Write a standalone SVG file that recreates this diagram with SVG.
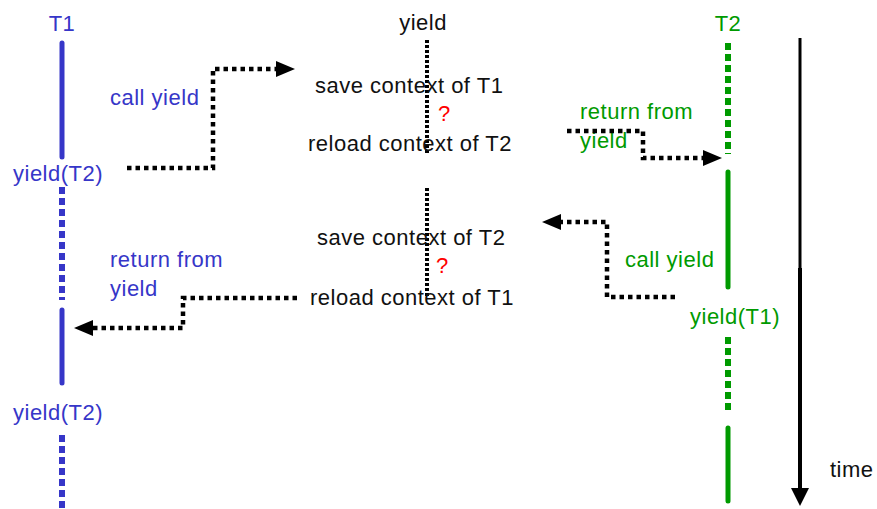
<svg xmlns="http://www.w3.org/2000/svg" width="877" height="509" viewBox="0 0 877 509">
  <style>
    text { font-family: "Liberation Sans", Arial, sans-serif; font-size: 22px; letter-spacing: 0.5px; }
    .blue { fill: #3636c8; }
    .green { fill: #009a00; }
    .black { fill: #111111; }
    .red { fill: #ff0000; }
    .t1solid { stroke: #3636c8; stroke-width: 5; stroke-linecap: round; fill: none; }
    .t1dots { stroke: #3636c8; stroke-width: 6; stroke-dasharray: 7 4; fill: none; }
    .t2solid { stroke: #009a00; stroke-width: 5; stroke-linecap: round; fill: none; }
    .t2dots { stroke: #009a00; stroke-width: 6; stroke-dasharray: 7 4; fill: none; }
    .flow { stroke: #000; stroke-width: 4.5; stroke-dasharray: 4.5 4; fill: none; }
    .yieldline { stroke: #000; stroke-width: 4; stroke-dasharray: 3 2; fill: none; }
  </style>
  <defs>
    <marker id="head" markerUnits="userSpaceOnUse" markerWidth="20" markerHeight="16" refX="0" refY="8" orient="auto">
      <path d="M0,0 L19,8 L0,16 z" fill="#000"/>
    </marker>
    <marker id="timehead" markerUnits="userSpaceOnUse" markerWidth="20" markerHeight="20" refX="0" refY="9" orient="auto">
      <path d="M0,0 L18,9 L0,18 z" fill="#000"/>
    </marker>
  </defs>

  <!-- thread T1 timeline -->
  <g id="thread-t1">
    <text class="blue" x="62" y="31" text-anchor="middle">T1</text>
    <line class="t1solid" x1="62" y1="43" x2="62" y2="157"/>
    <text class="blue" x="13" y="181">yield(T2)</text>
    <line class="t1dots" x1="62" y1="187" x2="62" y2="300"/>
    <line class="t1solid" x1="62" y1="310" x2="62" y2="383"/>
    <text class="blue" x="13" y="420">yield(T2)</text>
    <line class="t1dots" x1="62" y1="435" x2="62" y2="509"/>
  </g>

  <!-- thread T2 timeline -->
  <g id="thread-t2">
    <text class="green" x="728" y="31" text-anchor="middle">T2</text>
    <line class="t2dots" x1="728" y1="43" x2="728" y2="154"/>
    <line class="t2solid" x1="728" y1="172" x2="728" y2="287"/>
    <text class="green" x="690" y="324">yield(T1)</text>
    <line class="t2dots" x1="728" y1="337" x2="728" y2="413"/>
    <line class="t2solid" x1="728" y1="428" x2="728" y2="501"/>
  </g>

  <!-- yield routine column -->
  <g id="yield">
    <text class="black" x="423" y="30" text-anchor="middle">yield</text>
    <line class="yieldline" x1="427" y1="40" x2="427" y2="154"/>
    <line class="yieldline" x1="427" y1="188" x2="427" y2="297"/>
    <text class="black" x="315" y="93">save context of T1</text>
    <text class="red" x="438" y="121">?</text>
    <text class="black" x="308" y="151">reload context of T2</text>
    <text class="black" x="317" y="245">save context of T2</text>
    <text class="red" x="436" y="273">?</text>
    <text class="black" x="310" y="305">reload context of T1</text>
  </g>

  <!-- time axis -->
  <g id="time-axis">
    <line x1="800" y1="38" x2="800" y2="268" stroke="#000" stroke-width="3"/>
    <line x1="800" y1="268" x2="800" y2="488" stroke="#000" stroke-width="4" marker-end="url(#timehead)"/>
    <text class="black" x="830" y="477">time</text>
  </g>

  <!-- labels next to the transfer arrows -->
  <g id="labels">
    <text class="blue" x="110" y="105">call yield</text>
    <text class="green" x="580" y="119">return from</text>
    <text class="green" x="580" y="148">yield</text>
    <text class="green" x="625" y="267">call yield</text>
    <text class="blue" x="110" y="267">return from</text>
    <text class="blue" x="110" y="296">yield</text>
  </g>

  <!-- control transfer connectors -->
  <g id="connectors">
    <path class="flow" d="M127,168 H213 V69 H276" marker-end="url(#head)"/>
    <path class="flow" d="M567,131 H643 V158 H703" marker-end="url(#head)"/>
    <path class="flow" d="M675,297 H607 V222 H561" marker-end="url(#head)"/>
    <path class="flow" d="M297,298 H183 V328 H93" marker-end="url(#head)"/>
  </g>
</svg>
